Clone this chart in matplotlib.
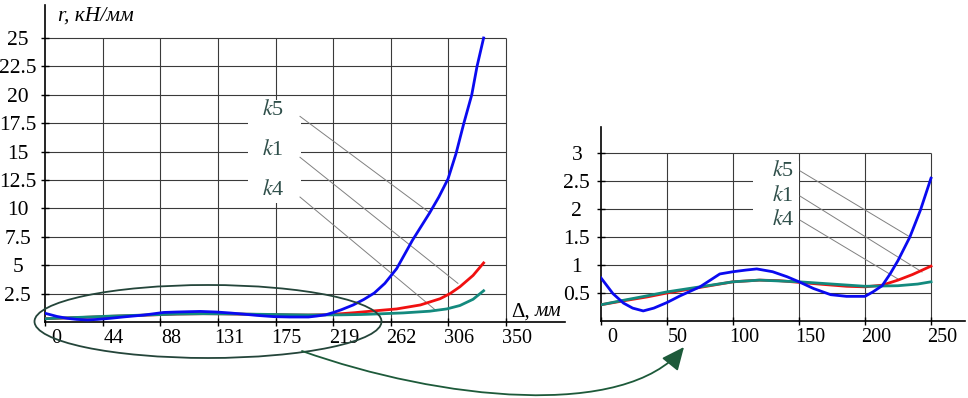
import numpy as np
import matplotlib
matplotlib.use('Agg')
import matplotlib.pyplot as plt
from matplotlib.patches import Ellipse, Rectangle, FancyArrowPatch
from matplotlib.path import Path
from matplotlib.transforms import ScaledTranslation

plt.rcParams['font.family'] = 'Liberation Serif'
plt.rcParams['mathtext.fontset'] = 'stix'

# значения (Δ, мм -> r, кН/мм)
k5_x = np.array([0, 9, 17, 24, 32, 40, 50, 60, 75, 90, 100, 110, 118, 130, 141, 150, 161,
                 174, 186, 200, 206, 213, 219, 225, 234, 242, 250, 258, 267, 279, 292,
                 299, 306, 312, 318, 324, 328, 333])
k5_y = np.array([0.77, 0.49, 0.32, 0.23, 0.18, 0.23, 0.33, 0.45, 0.61, 0.84, 0.88, 0.91, 0.93,
                 0.88, 0.79, 0.70, 0.58, 0.47, 0.44, 0.44, 0.52, 0.63, 0.84, 1.08, 1.50, 1.98,
                 2.55, 3.4, 4.7, 7.2, 9.6, 11.0, 12.6, 14.8, 17.5, 20.0, 22.5, 25.0])

k1_x = np.array([0, 17, 35, 50, 75, 100, 120, 135, 150, 165, 186, 200, 213, 225, 236, 250,
                 267, 285, 300, 307.5, 315, 325, 333])
k1_y = np.array([0.29, 0.36, 0.43, 0.50, 0.60, 0.70, 0.73, 0.72, 0.69, 0.66, 0.62, 0.61, 0.64,
                 0.73, 0.83, 0.98, 1.15, 1.5, 2.05, 2.5, 3.1, 4.1, 5.2])

k4_x = np.array([0, 17, 35, 50, 75, 100, 120, 150, 175, 200, 225, 240, 250, 272, 292, 305,
                 315, 325, 333])
k4_y = np.array([0.29, 0.37, 0.45, 0.52, 0.61, 0.70, 0.73, 0.70, 0.66, 0.62, 0.63, 0.66, 0.70,
                 0.80, 0.95, 1.15, 1.45, 2.0, 2.75])

left_xticks = [0, 43.75, 87.5, 131.25, 175, 218.75, 262.5, 306.25, 350]
left_xlabels = ['0', '44', '88', '131', '175', '219', '262', '306', '350']
left_yticks = [2.5, 5, 7.5, 10, 12.5, 15, 17.5, 20, 22.5, 25]
left_ylabels = ['2.5', '5', '7.5', '10', '12.5', '15', '17.5', '20', '22.5', '25']
right_xticks = [0, 50, 100, 150, 200, 250]
right_xlabels = ['0', '50', '100', '150', '200', '250']
right_yticks = [0.5, 1, 1.5, 2, 2.5, 3]
right_ylabels = ['0.5', '1', '1.5', '2', '2.5', '3']

c_blue, c_red, c_green = '#0a0af0', '#f01010', '#138a7e'
c_grid = '#3a3a3a'
c_lab = '#2f4f4a'
c_lead = '#808080'
c_loop = '#24453a'

W, H = 968, 398
fig = plt.figure(figsize=(W / 100, H / 100), dpi=100)


def box(x0, y0, x1, y1):
    # пиксели картинки, y сверху вниз
    return [x0 / W, 1 - y1 / H, (x1 - x0) / W, (y1 - y0) / H]


axL = fig.add_axes(box(45, 5, 565, 322))
axR = fig.add_axes(box(601, 127, 965, 321))


def style(ax, xt, xl, yt, yl, xmax, ymax, ypad):
    ax.set_xlim(0, xmax)
    ax.set_ylim(0, ymax)
    ax.patch.set_visible(False)
    for s in ['top', 'right']:
        ax.spines[s].set_visible(False)
    for s in ['left', 'bottom']:
        ax.spines[s].set_linewidth(1.2)
    ax.vlines(xt[1:], 0, yt[-1], color=c_grid, lw=0.8, zorder=1)
    ax.hlines(yt, 0, xt[-1], color=c_grid, lw=0.8, zorder=1)
    ax.set_xticks(xt, xl)
    ax.set_yticks(yt, yl)
    ax.tick_params(direction='inout', length=6, width=1)
    ax.tick_params(axis='x', labelsize=14.5, pad=2)
    ax.tick_params(axis='y', labelsize=15.5, pad=ypad)
    for lab in ax.get_yticklabels():
        lab.set_ha('center')
    off = ScaledTranslation(0.11, 0, fig.dpi_scale_trans)
    for lab in ax.get_xticklabels():
        lab.set_transform(lab.get_transform() + off)


style(axL, left_xticks, left_xlabels, left_yticks, left_ylabels, 520 * 350 / 461, 317 / 11.36, 16.6)
style(axR, right_xticks, right_xlabels, right_yticks, right_ylabels, 364 * 250 / 330, 194 / 56, 14.4)

# кривые
for ax, lim in [(axL, 400), (axR, 250)]:
    m1 = k1_x <= lim
    m4 = k4_x <= lim
    m5 = k5_x <= lim
    ax.plot(k1_x[m1], k1_y[m1], color=c_red, lw=2.0, zorder=3)
    ax.plot(k4_x[m4], k4_y[m4], color=c_green, lw=2.0, zorder=3.1)
    ax.plot(k5_x[m5], k5_y[m5], color=c_blue, lw=2.0, zorder=3.2)

# подписи кривых
axL.add_patch(Rectangle((154, 10.5), 40, 9, fc='white', ec='none', zorder=1.5))
for name, y0, end in [('5', 18.7, (292.3, 9.6)), ('1', 15.1, (313.5, 3.4)), ('4', 11.6, (297.0, 1.0))]:
    axL.text(173, y0, r'$k$' + name, fontsize=16, color=c_lab, ha='center', va='center', zorder=2)
    axL.plot([193.6, end[0]], [y0 - 0.6, end[1]], color=c_lead, lw=0.7, zorder=1.6)

axR.add_patch(Rectangle((115, 1.75), 35, 1.1, fc='white', ec='none', zorder=1.5))
for name, y0, end in [('5', 2.68, (234.1, 1.5)), ('1', 2.23, (243.2, 0.875)), ('4', 1.80, (225.0, 0.75))]:
    axR.text(138, y0, r'$k$' + name, fontsize=16, color=c_lab, ha='center', va='center', zorder=2)
    axR.plot([150.8, end[0]], [y0, end[1]], color=c_lead, lw=0.7, zorder=1.6)

# оси
axL.text(9.9, 26.9, 'r, кН/мм', fontsize=15.5, style='italic', ha='left', va='center', clip_on=False)
axL.text(368, 0.5, 'Δ,', fontsize=15, ha='right', va='baseline')
axL.text(372, 0.5, 'мм', fontsize=15, style='italic', ha='left', va='baseline')

# эллипс и стрелка
fig.add_artist(Ellipse((208 / W, 1 - 321.5 / H), 347 / W, 73 / H, transform=fig.transFigure,
                       fill=False, ec=c_loop, lw=1.3, zorder=5))
pts = [(302, 351), (440, 400), (625, 420), (684, 347)]
path = Path([(x / W, 1 - y / H) for x, y in pts],
            [Path.MOVETO, Path.CURVE4, Path.CURVE4, Path.CURVE4])
fig.add_artist(FancyArrowPatch(path=path, arrowstyle='-|>,head_length=1.0,head_width=0.45',
                               mutation_scale=14, color='#1d5a3a', lw=1.3,
                               transform=fig.transFigure, zorder=5))

fig.savefig('out.png', dpi=100)
